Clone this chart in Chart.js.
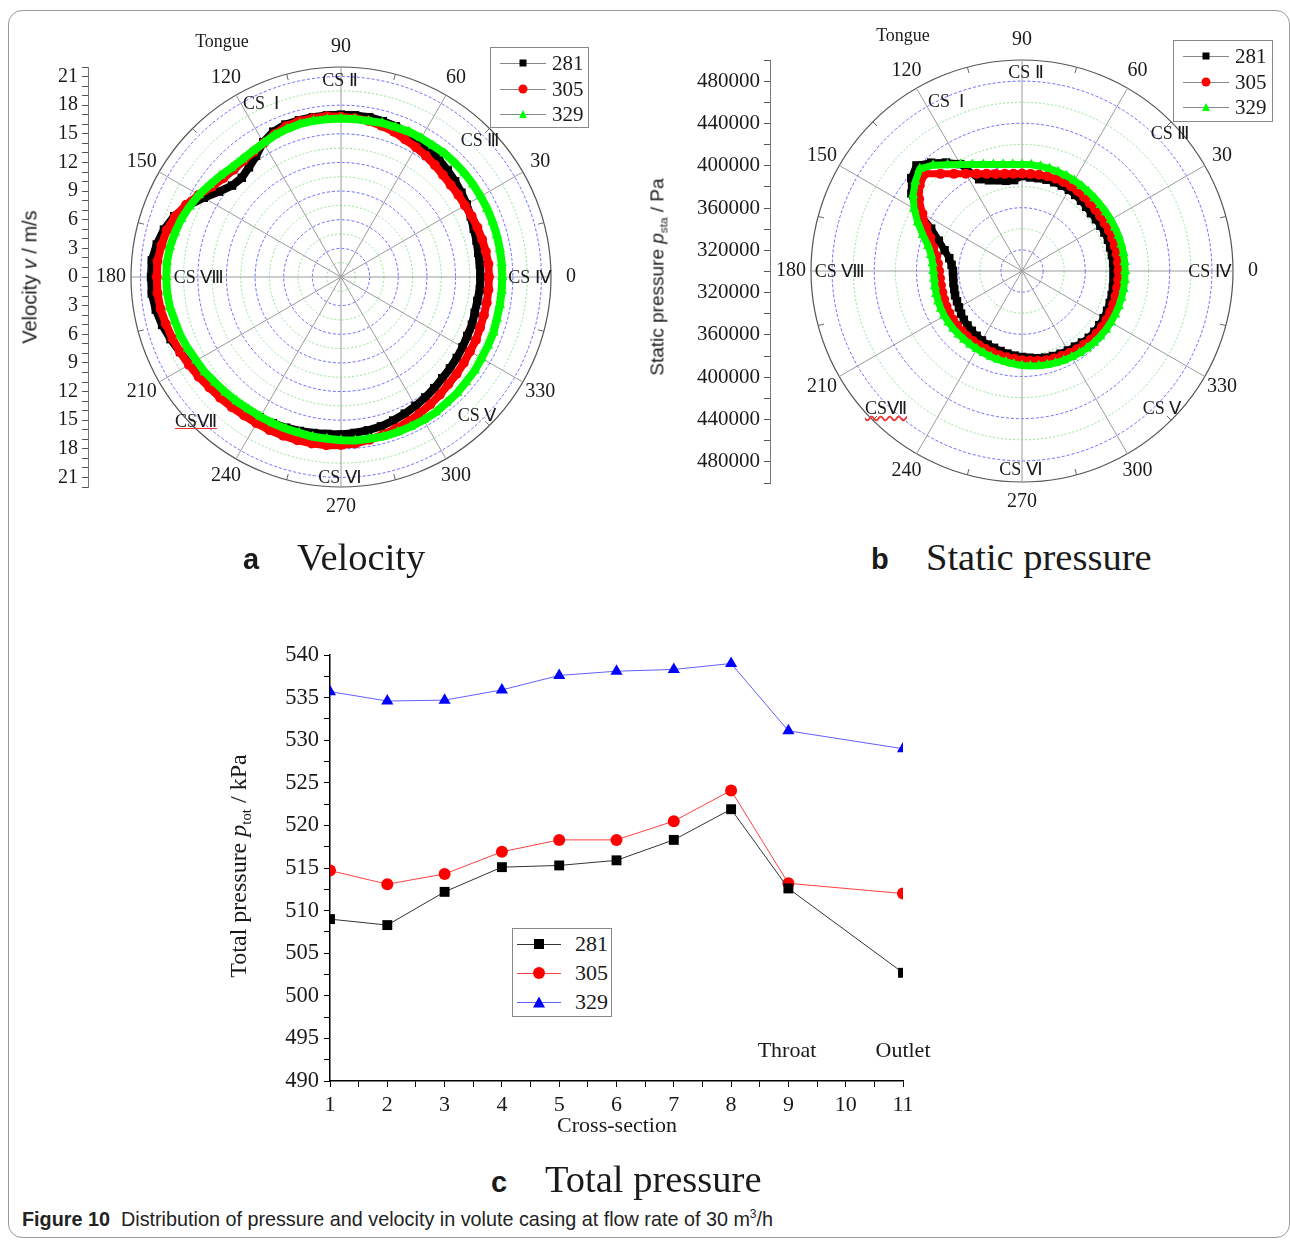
<!DOCTYPE html>
<html><head><meta charset="utf-8">
<script src="https://cdn.jsdelivr.net/npm/chart.js@4.4.1/dist/chart.umd.min.js"></script>
<style>
html,body{margin:0;padding:0;background:#fff;}
#page{position:relative;width:1290px;height:1240px;overflow:hidden;font-family:"Liberation Serif","Times New Roman",serif;color:#1a1a1a;}
.abs{position:absolute;}
.c{position:absolute;transform:translate(-50%,-50%);white-space:nowrap;}
.rot{position:absolute;transform:translate(-50%,-50%) rotate(-90deg);white-space:nowrap;}
canvas{position:absolute;}
.frame{position:absolute;left:8px;top:10px;width:1280px;height:1226px;border:1px solid #9a9a9a;border-radius:14px;}
.cs{font-size:18px;}
.leg{position:absolute;border:1px solid #888;background:#fff;}
.leg .ln{position:absolute;height:1px;}
.leg .mk{position:absolute;transform:translate(-50%,-50%);}
.leg .lt{position:absolute;transform:translateY(-50%);white-space:nowrap;}
.sub{font-size:0.62em;vertical-align:-0.35em;}
.pl{position:absolute;transform:translateY(-50%);white-space:nowrap;font-family:"Liberation Sans",Arial,sans-serif;font-size:29px;font-weight:bold;}
.pt{position:absolute;transform:translateY(-50%);white-space:nowrap;font-size:38.5px;}
</style></head><body><div id="page">
<div class="frame"></div>

<canvas id="axA" width="100" height="520" style="left:0;top:20px"></canvas>
<canvas id="polA" width="520" height="500" style="left:80px;top:25px"></canvas>
<canvas id="axB" width="140" height="500" style="left:640px;top:20px"></canvas>
<canvas id="polB" width="510" height="500" style="left:772px;top:20px"></canvas>
<canvas id="lineC" width="720" height="520" style="left:230px;top:630px"></canvas>

<!-- axis titles -->
<div class="rot" style="left:30px;top:277px;font-family:'Liberation Sans',Arial,sans-serif;font-size:20px;">Velocity <i>v</i> / m/s</div>
<div class="rot" style="left:658px;top:277px;font-family:'Liberation Sans',Arial,sans-serif;font-size:19px;">Static pressure <i>p</i><span class="sub">sta</span> / Pa</div>
<div class="rot" style="left:240px;top:866px;font-size:24px;">Total pressure <i>p</i><span class="sub">tot</span> / kPa</div>
<div class="c" style="left:617px;top:1125px;font-size:22px;">Cross-section</div>
<div class="c" style="left:787px;top:1050px;font-size:22px;">Throat</div>
<div class="c" style="left:903px;top:1050px;font-size:22px;">Outlet</div>

<!-- polar annotations a -->
<div class="c cs" style="left:222px;top:41px;">Tongue</div>
<div class="c cs" style="left:340px;top:80px;">CS Ⅱ</div>
<div class="c cs" style="left:261px;top:103px;">CS&nbsp; Ⅰ</div>
<div class="c cs" style="left:480px;top:140px;">CS Ⅲ</div>
<div class="c cs" style="left:530px;top:277px;">CS Ⅳ</div>
<div class="c cs" style="left:477px;top:415px;">CS Ⅴ</div>
<div class="c cs" style="left:340px;top:477px;">CS Ⅵ</div>
<div class="c cs" style="left:196px;top:421px;text-decoration:underline;text-decoration-color:#e33;">CSⅦ</div>
<div class="c cs" style="left:199px;top:277px;">CS Ⅷ</div>
<!-- polar annotations b -->
<div class="c cs" style="left:903px;top:35px;">Tongue</div>
<div class="c cs" style="left:1026px;top:72px;">CS Ⅱ</div>
<div class="c cs" style="left:946px;top:101px;">CS&nbsp; Ⅰ</div>
<div class="c cs" style="left:1170px;top:133px;">CS Ⅲ</div>
<div class="c cs" style="left:1210px;top:271px;">CS Ⅳ</div>
<div class="c cs" style="left:1162px;top:408px;">CS Ⅴ</div>
<div class="c cs" style="left:1021px;top:469px;">CS Ⅵ</div>
<div class="c cs" style="left:886px;top:408px;text-decoration:underline wavy;text-decoration-color:#e33;">CSⅦ</div>
<div class="c cs" style="left:840px;top:271px;">CS Ⅷ</div>

<div id="legA" class="leg" style="left:490px;top:47px;width:97px;height:79px;"></div>
<div id="legB" class="leg" style="left:1173px;top:40px;width:98px;height:80px;"></div>
<div id="legC" class="leg" style="left:512px;top:928px;width:98px;height:87px;"></div>

<div class="pl" style="left:243px;top:559px;">a</div><div class="pt" style="left:297px;top:557px;">Velocity</div>
<div class="pl" style="left:871px;top:559px;">b</div><div class="pt" style="left:926px;top:557px;">Static pressure</div>
<div class="pl" style="left:491px;top:1182px;">c</div><div class="pt" style="left:545px;top:1179px;">Total pressure</div>

<div class="abs" style="left:22px;top:1207px;font-family:'Liberation Sans Narrow','Liberation Sans',Arial,sans-serif;font-size:19.8px;white-space:nowrap;color:#222;"><b>Figure 10</b>&nbsp; Distribution of pressure and velocity in volute casing at flow rate of 30 m<sup style="font-size:12px">3</sup>/h</div>

</div>
<script>
// ---------------- DATA ----------------
const seriesNames = ['281', '305', '329'];
const angleDeg = [0,5,10,15,20,25,30,35,40,45,50,55,60,65,70,75,80,85,90,95,100,105,110,115,
  120,125,130,135,140,145,150,155,160,165,170,175,180,185,190,195,200,205,210,215,220,225,230,235,
  240,245,250,255,260,265,270,275,280,285,290,295,300,305,310,315,320,325,330,335,340,345,350,355];

// (a) velocity, m/s, by angleDeg
const vel281 = [14.6,14.6,14.6,14.7,14.8,15.0,15.2,15.4,15.6,15.8,16.0,16.2,
  16.4,16.6,16.8,16.9,17.0,17.0,17.0,17.0,17.0,17.0,17.0,16.8,
  16.3,15.5,15.0,14.7,14.9,15.6,16.6,17.7,18.6,19.2,19.6,19.9,
  19.9,19.9,19.7,19.4,19.0,18.6,18.3,18.0,17.7,17.5,17.3,17.1,
  17.0,16.9,16.8,16.7,16.6,16.5,16.5,16.4,16.3,16.2,16.0,15.8,
  15.6,15.4,15.2,15.0,14.9,14.8,14.7,14.6,14.6,14.5,14.5,14.6];
const vel305 = [15.5,15.5,15.4,15.3,15.2,15.1,15.0,15.0,15.0,15.1,15.3,15.5,
  15.7,15.9,16.2,16.4,16.6,16.7,16.8,16.9,16.9,16.9,16.8,16.5,
  16.2,16.0,15.9,15.9,16.1,16.5,17.2,17.9,18.5,18.9,19.1,19.3,
  19.3,19.3,19.2,19.0,18.8,18.6,18.4,18.2,18.0,17.9,17.8,17.7,
  17.7,17.7,17.7,17.7,17.7,17.7,17.6,17.5,17.3,17.1,16.9,16.7,
  16.5,16.3,16.1,15.9,15.8,15.7,15.6,15.6,15.5,15.5,15.5,15.5];
const vel329 = [16.9,16.9,16.9,16.9,16.9,16.9,16.9,16.9,16.9,16.9,16.9,16.8,
  16.8,16.8,16.7,16.7,16.6,16.6,16.6,16.6,16.6,16.6,16.5,16.4,
  16.2,16.1,16.1,16.2,16.5,16.8,17.2,17.5,17.8,18.0,18.2,18.3,
  18.3,18.3,18.2,18.0,17.9,17.7,17.5,17.4,17.2,17.1,17.0,16.9,
  16.9,16.9,16.9,16.9,17.0,17.0,17.1,17.2,17.2,17.3,17.3,17.3,
  17.3,17.3,17.2,17.2,17.1,17.1,17.0,17.0,17.0,16.9,16.9,16.9];

// (b) static pressure, Pa, by angleDeg
const sp281 = [386700,386700,386500,386500,386700,386200,385800,385500,385300,386000,387000,388000,
  388800,389300,389500,389600,389300,389000,390000,386500,386800,389000,391500,396000,
  417000,425500,434000,441500,437000,428000,415000,395000,384000,376000,370000,367000,
  365500,365500,366000,366500,367500,368000,369000,370500,372000,373000,374000,375000,
  376000,377000,377500,378500,379500,380500,381500,382500,384000,385000,385800,386500,
  387000,387500,388500,389500,389600,389500,389300,389000,388500,388000,387500,387000];
const sp305 = [391400,391300,391200,391000,391000,390800,390600,390500,390600,391000,391500,392200,
  392700,393000,393200,393000,392700,392400,392300,392500,393500,395300,398000,401600,
  406400,412400,420200,430300,426500,419000,409000,400000,392500,387000,382500,380000,
  378500,378000,378000,378200,378600,379000,379500,380000,380300,380600,380800,381000,
  381200,381600,382000,382600,383000,383600,384500,385500,386500,387500,388300,389000,
  389800,390500,391300,392000,392300,392500,392500,392300,392000,391800,391600,391500];
const sp329 = [397800,397700,397600,397500,397400,397300,397200,397200,397300,397600,398000,398500,
  399000,399500,400000,400500,400800,401000,401000,401300,402500,404500,407400,411400,
  416600,423000,431000,437000,432000,426000,418000,409000,400000,392000,387500,385000,
  384000,383600,383800,384200,384500,384800,385000,385000,385000,385000,385000,385200,
  385400,385800,386400,387000,387600,388500,389500,390300,391200,392000,392800,393500,
  394200,395000,395700,396300,396700,397000,397200,397400,397600,397700,397800,397800];

// polar rings
const velRings = [0,1.5,3,4.5,6,7.5,9,10.5,12,13.5,15,16.5,18,19.5,21,22];
const spRings = [300000,320000,340000,360000,380000,400000,420000,440000,460000,480000,500000];

// (c) total pressure, kPa
const sections = [1,2,3,4,5,6,7,8,9,11];
const tp281 = [509.0,508.3,512.2,515.1,515.3,515.9,518.3,521.9,512.6,502.7];
const tp305 = [514.7,513.1,514.3,516.9,518.3,518.3,520.5,524.1,513.2,512.0];
const tp329 = [535.7,534.6,534.7,535.9,537.6,538.1,538.3,539.0,531.1,529.0];

// ---------------- STYLE ----------------
const SERIF = '"Liberation Serif","Times New Roman",serif';
const polarColors = ['#000000', '#ff0000', '#00ff00'];
const polarShapes = ['rect', 'circle', 'triangle'];
const polarRadius = [6, 5, 6];

// radar draws clockwise from the right; reference is counter-clockwise
const N = angleDeg.length;
const dispOrder = angleDeg.map((_, i) => (N - i) % N);
const reorder = arr => dispOrder.map(j => arr[j]);

const angleLabelPlugin = {
  id: 'angleLabels',
  afterDraw(chart, args, opts) {
    const s = chart.scales.r, ctx = chart.ctx;
    ctx.save();
    ctx.font = '20px ' + SERIF;
    ctx.fillStyle = '#1a1a1a';
    ctx.textAlign = 'center';
    ctx.textBaseline = 'middle';
    ctx.strokeStyle = '#666';
    ctx.lineWidth = 1;
    chart.data.labels.forEach((deg, i) => {
      if (deg % 30 === 0) {
        const p = s.getPointPosition(i, s.drawingArea + opts.offset);
        ctx.fillText(String(deg), p.x, p.y);
      } else if (deg % 15 === 0) {
        const a = s.getPointPosition(i, s.drawingArea - 6);
        const b = s.getPointPosition(i, s.drawingArea);
        ctx.beginPath(); ctx.moveTo(a.x, a.y); ctx.lineTo(b.x, b.y); ctx.stroke();
      }
    });
    ctx.restore();
  }
};

function ringStyle(kind) {
  return {outer: ['#555555', 1.2, []], blue: ['#5b5bff', 0.9, [3, 2]], green: ['#86e086', 0.9, [2, 2]]}[kind];
}

function makePolar(id, series, rings, min, max, kindFn, padding, bw) {
  new Chart(document.getElementById(id), {
    type: 'radar',
    data: {
      labels: reorder(angleDeg),
      datasets: series.map((s, k) => ({
        label: seriesNames[k],
        data: reorder(s),
        borderColor: polarColors[k],
        backgroundColor: polarColors[k],
        pointBackgroundColor: polarColors[k],
        pointBorderColor: polarColors[k],
        pointStyle: polarShapes[k],
        pointRadius: polarRadius[k],
        pointBorderWidth: 0,
        borderWidth: bw,
        borderJoinStyle: 'round',
        fill: false,
        tension: 0,
        order: 3 - k
      }))
    },
    options: {
      responsive: false, animation: false,
      layout: {padding},
      plugins: {legend: {display: false}, tooltip: {enabled: false}, angleLabels: {offset: 20}},
      scales: {
        r: {
          min, max, startAngle: 90,
          afterBuildTicks: sc => { sc.ticks = rings.map(v => ({value: v})); },
          ticks: {display: false},
          pointLabels: {display: false},
          grid: {
            circular: true,
            color: c => ringStyle(kindFn(c.tick.value))[0],
            lineWidth: c => ringStyle(kindFn(c.tick.value))[1]
          },
          border: {dash: c => ringStyle(kindFn(c.tick.value))[2]},
          angleLines: {
            color: '#9a9a9a',
            lineWidth: c => (c.index % 6 === 0 ? 1 : 0)
          }
        }
      }
    },
    plugins: [angleLabelPlugin]
  });
}

makePolar('polA', [vel281, vel305, vel329], velRings, 0, 22,
  v => (v === 22 ? 'outer' : (v % 3 === 0 ? 'blue' : 'green')),
  {left: 51, right: 49, top: 42, bottom: 38}, 8);
makePolar('polB', [sp281, sp305, sp329], spRings, 300000, 500000,
  v => (v === 500000 ? 'outer' : ((v - 300000) % 40000 === 20000 ? 'blue' : 'green')),
  {left: 39, right: 49, top: 40, bottom: 38}, 7);

function makeSideAxis(id, min, max, step, width, padding, fontSize, labelFn) {
  new Chart(document.getElementById(id), {
    type: 'scatter',
    data: {datasets: []},
    options: {
      responsive: false, animation: false,
      layout: {padding},
      plugins: {legend: {display: false}, tooltip: {enabled: false}},
      scales: {
        x: {display: false, min: 0, max: 1},
        y: {
          min, max, position: 'left',
          afterFit: sc => { sc.width = width; },
          ticks: {stepSize: step, autoSkip: false, padding: 4, color: '#1a1a1a',
            font: {family: SERIF, size: fontSize}, callback: labelFn},
          grid: {drawOnChartArea: false, tickLength: 6, color: '#555'},
          border: {color: '#777', width: 1}
        }
      }
    }
  });
}
makeSideAxis('axA', -22, 22, 1, 88, {left: 0, right: 0, top: 47, bottom: 53}, 20,
  v => (v % 3 === 0 ? String(Math.abs(v)) : ''));
makeSideAxis('axB', -200000, 200000, 20000, 130, {left: 0, right: 0, top: 40, bottom: 37}, 21,
  v => (Math.abs(v) % 40000 === 20000 ? String(300000 + Math.abs(v)) : ''));

// ---------- chart c ----------
const lineColors = ['#333333', '#ff4040', '#6060ff'];
const markColors = ['#000000', '#ff0000', '#0000ff'];
const lineShapes = ['rect', 'circle', 'triangle'];
const lineRadius = [7, 6, 7];
new Chart(document.getElementById('lineC'), {
  type: 'scatter',
  data: {
    datasets: [tp281, tp305, tp329].map((s, k) => ({
      label: seriesNames[k],
      data: sections.map((x, i) => ({x, y: s[i]})),
      showLine: true,
      borderColor: lineColors[k],
      borderWidth: 1,
      pointStyle: lineShapes[k],
      pointRadius: lineRadius[k],
      pointBackgroundColor: markColors[k],
      pointBorderColor: markColors[k],
      pointBorderWidth: 0
    }))
  },
  options: {
    responsive: false, animation: false,
    layout: {padding: {left: 0, right: 47, top: 25, bottom: 29}},
    plugins: {legend: {display: false}, tooltip: {enabled: false}},
    scales: {
      x: {
        type: 'linear', min: 1, max: 11,
        afterFit: sc => { sc.height = 40; },
        ticks: {stepSize: 0.5, autoSkip: false, maxRotation: 0, padding: 5, color: '#1a1a1a',
          font: {family: SERIF, size: 22}, callback: v => (Number.isInteger(v) ? String(v) : '')},
        grid: {drawOnChartArea: false, tickLength: 6, color: '#000'},
        border: {color: '#000', width: 1.5}
      },
      y: {
        min: 490, max: 540,
        afterFit: sc => { sc.width = 100; },
        ticks: {stepSize: 2.5, autoSkip: false, padding: 5, color: '#1a1a1a',
          font: {family: SERIF, size: 22.5}, callback: v => (v % 5 === 0 ? String(v) : '')},
        grid: {drawOnChartArea: false, tickLength: 6, color: '#000'},
        border: {color: '#000', width: 1.5}
      }
    }
  }
});

// ---------- HTML legends ----------
function marker(shape, color, size) {
  const m = document.createElement('span');
  m.className = 'mk';
  if (shape === 'rect') { m.style.width = size + 'px'; m.style.height = size + 'px'; m.style.background = color; }
  else if (shape === 'circle') { m.style.width = (size + 2) + 'px'; m.style.height = (size + 2) + 'px'; m.style.borderRadius = '50%'; m.style.background = color; }
  else { m.style.width = '0'; m.style.height = '0'; m.style.borderLeft = (size / 2 + 1) + 'px solid transparent';
    m.style.borderRight = (size / 2 + 1) + 'px solid transparent'; m.style.borderBottom = (size + 1) + 'px solid ' + color; }
  return m;
}
function buildLegend(id, rows, lnL, lnW, mkX, txtX, fs, lineCols, markCols, mkSize) {
  const box = document.getElementById(id);
  seriesNames.forEach((name, k) => {
    const y = rows[k];
    const ln = document.createElement('span');
    ln.className = 'ln';
    Object.assign(ln.style, {left: lnL + 'px', width: lnW + 'px', top: y + 'px', background: lineCols[k]});
    box.appendChild(ln);
    const m = marker(lineShapes[k], markCols[k], mkSize);
    m.style.left = mkX + 'px'; m.style.top = y + 'px';
    box.appendChild(m);
    const t = document.createElement('span');
    t.className = 'lt'; t.textContent = name;
    Object.assign(t.style, {left: txtX + 'px', top: y + 'px', fontSize: fs + 'px'});
    box.appendChild(t);
  });
}
const greyLines = ['#888', '#888', '#888'];
buildLegend('legA', [15, 41, 66], 9, 46, 32, 61, 21, greyLines, polarColors, 7);
buildLegend('legB', [15, 41, 66], 9, 46, 32, 61, 21, greyLines, polarColors, 7);
buildLegend('legC', [15, 44, 73], 4, 44, 26, 62, 22, lineColors, markColors, 10);
</script>
</body></html>
